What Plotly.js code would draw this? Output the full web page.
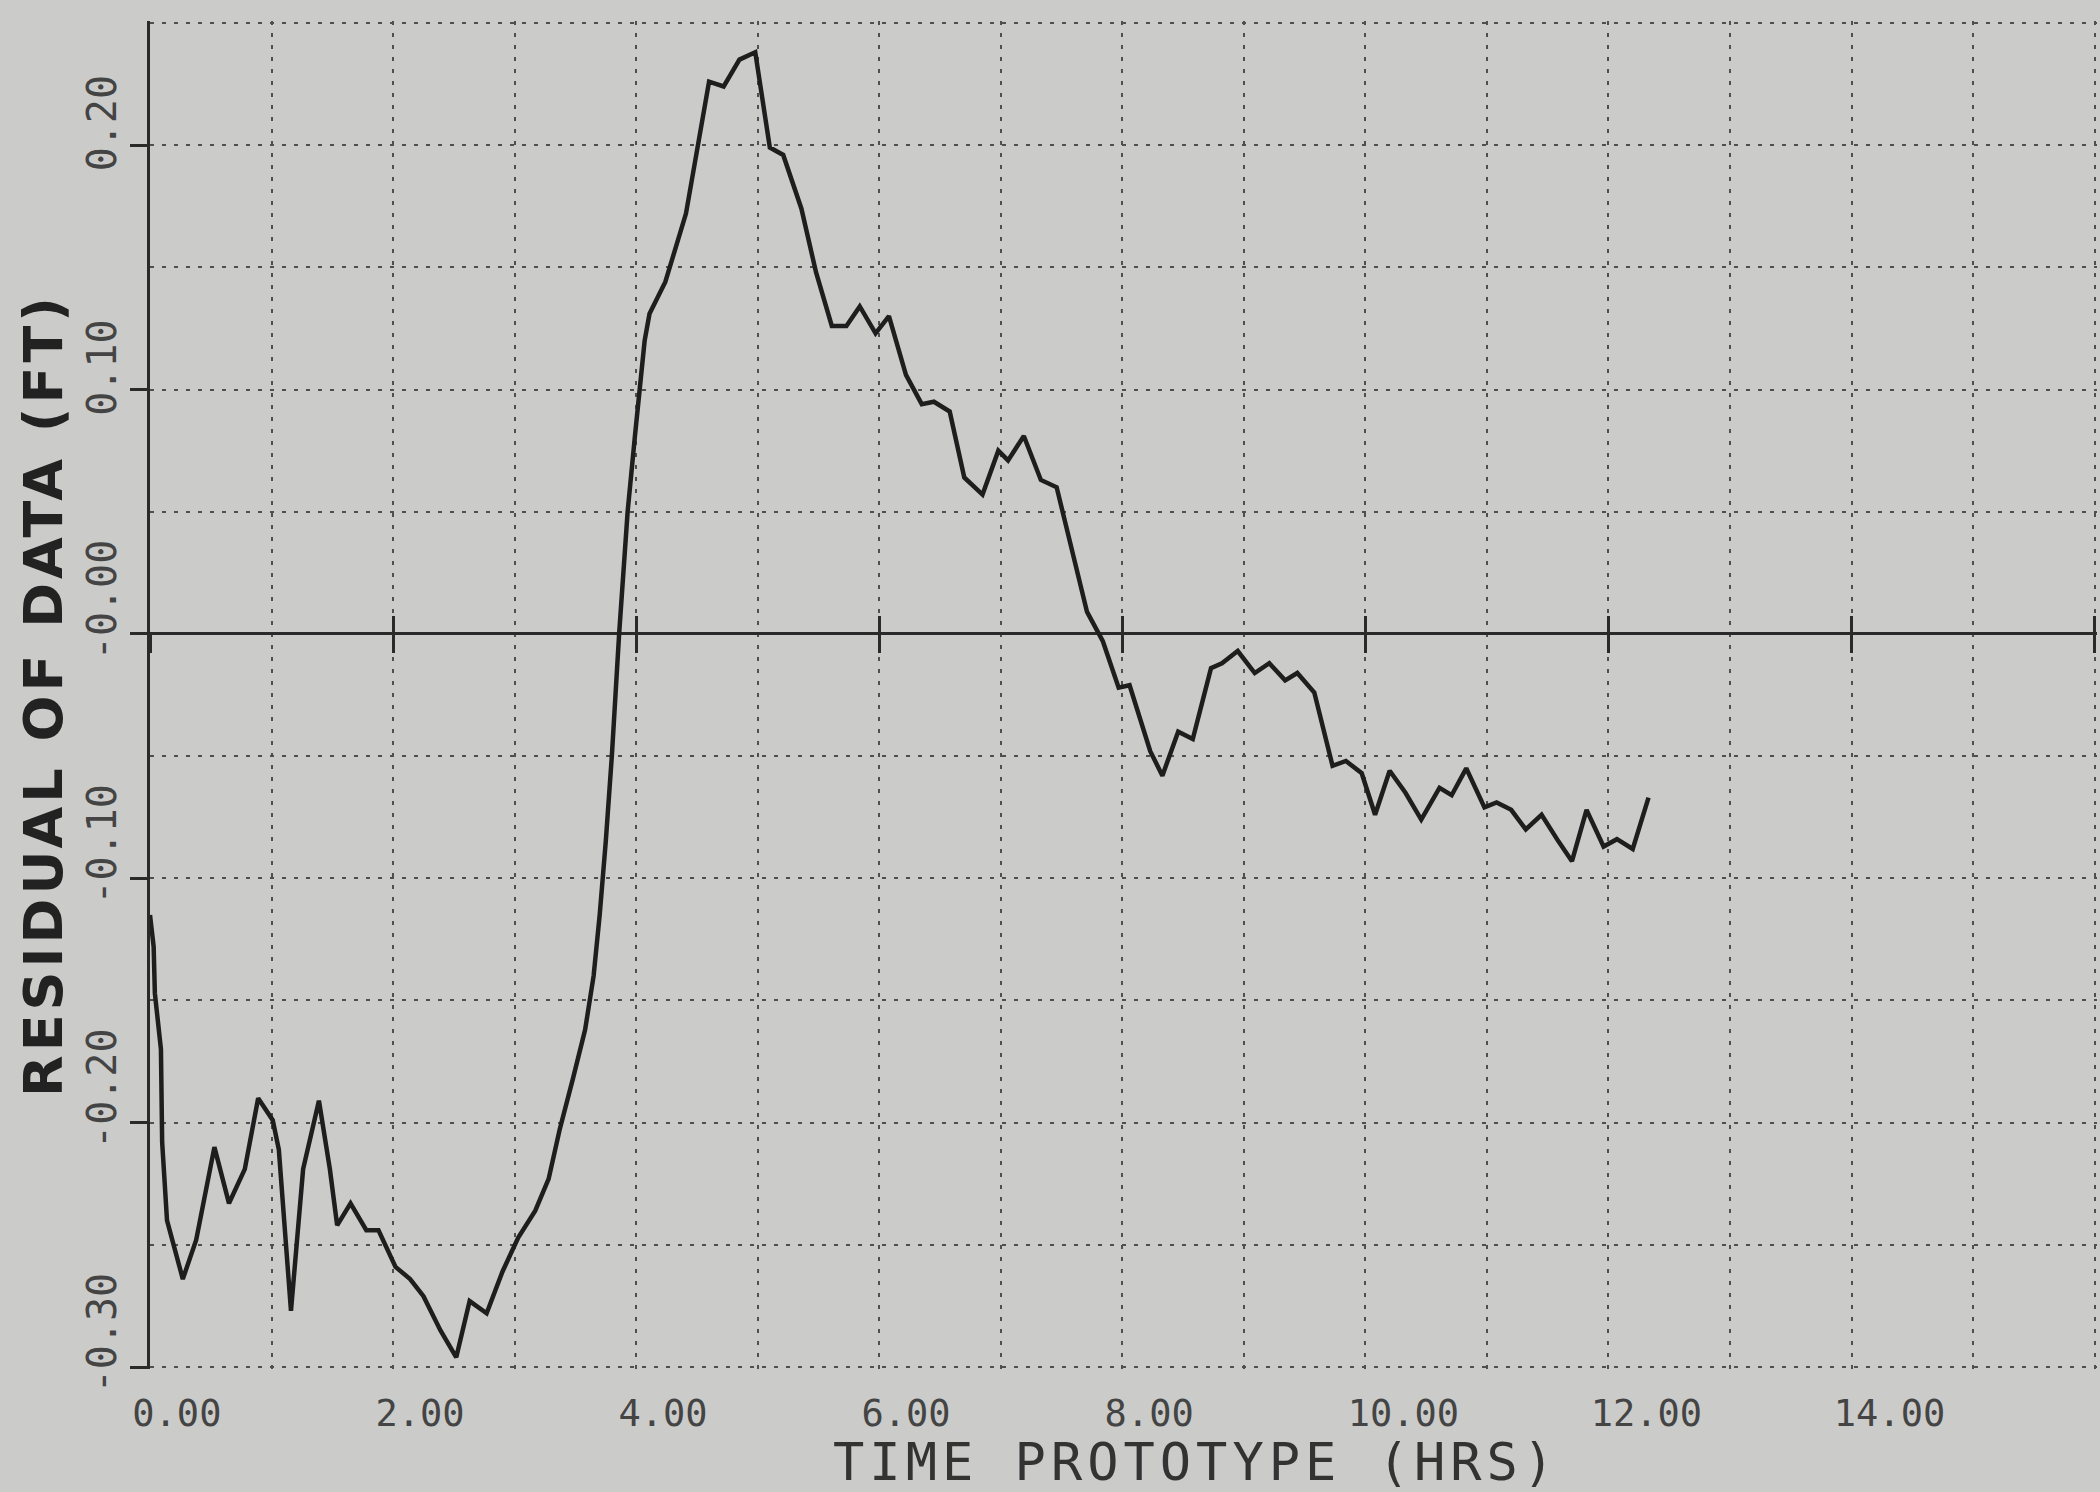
<!DOCTYPE html>
<html>
<head>
<meta charset="utf-8">
<script src="https://cdn.plot.ly/plotly-3.0.1.min.js"></script>
<style>html,body{margin:0;padding:0;background:#cbccca;}</style>
</head>
<body>
<div id="chart" style="width:2100px;height:1492px;"></div>
<script>
// Time (hours) and residual (ft)
var timeHrs = [0.00, 0.03, 0.04, 0.09, 0.10, 0.14, 0.27, 0.38, 0.53, 0.65, 0.78, 0.89, 1.01, 1.06, 1.16, 1.26, 1.39, 1.48, 1.54, 1.65, 1.78, 1.88, 2.02, 2.14, 2.25, 2.39, 2.52, 2.63, 2.77, 2.90, 3.03, 3.17, 3.28, 3.37, 3.48, 3.58, 3.65, 3.70, 3.75, 3.80, 3.86, 3.93, 3.99, 4.07, 4.11, 4.24, 4.41, 4.60, 4.72, 4.85, 4.98, 5.10, 5.21, 5.36, 5.48, 5.61, 5.73, 5.84, 5.97, 6.08, 6.22, 6.35, 6.45, 6.58, 6.70, 6.85, 6.98, 7.06, 7.19, 7.33, 7.46, 7.59, 7.71, 7.84, 7.97, 8.06, 8.23, 8.33, 8.46, 8.58, 8.73, 8.82, 8.95, 9.09, 9.21, 9.34, 9.44, 9.58, 9.73, 9.84, 9.97, 10.08, 10.20, 10.33, 10.46, 10.61, 10.71, 10.83, 10.98, 11.08, 11.20, 11.32, 11.45, 11.59, 11.70, 11.82, 11.96, 12.07, 12.20, 12.33];
var residualFt = [-0.115, -0.128, -0.147, -0.170, -0.208, -0.240, -0.264, -0.248, -0.210, -0.233, -0.219, -0.190, -0.199, -0.211, -0.277, -0.219, -0.191, -0.219, -0.242, -0.233, -0.244, -0.244, -0.259, -0.264, -0.271, -0.285, -0.296, -0.273, -0.278, -0.261, -0.247, -0.236, -0.223, -0.203, -0.182, -0.162, -0.140, -0.115, -0.085, -0.050, 0.000, 0.050, 0.081, 0.120, 0.131, 0.144, 0.172, 0.226, 0.224, 0.235, 0.238, 0.199, 0.196, 0.174, 0.148, 0.126, 0.126, 0.134, 0.123, 0.130, 0.106, 0.094, 0.095, 0.091, 0.064, 0.057, 0.075, 0.071, 0.081, 0.063, 0.060, 0.033, 0.009, -0.003, -0.022, -0.021, -0.048, -0.058, -0.040, -0.043, -0.014, -0.012, -0.007, -0.016, -0.012, -0.019, -0.016, -0.024, -0.054, -0.052, -0.057, -0.074, -0.056, -0.065, -0.076, -0.063, -0.066, -0.055, -0.071, -0.069, -0.072, -0.080, -0.074, -0.085, -0.093, -0.072, -0.087, -0.084, -0.088, -0.067];

// Axis ticks and labels as printed on the plot
var xTickVals = [0, 2, 4, 6, 8, 10, 12, 14];
var xTickText = ["0.00\u00a0", "2.00\u00a0", "4.00\u00a0", "6.00\u00a0", "8.00\u00a0", "10.00", "12.00", "14.00"];
var yTickVals = [-0.30, -0.20, -0.10, 0.00, 0.10, 0.20];
var yTickText = ["-0.30", "-0.20", "-0.10", "-0.00", "0.10\u00a0", "0.20\u00a0"];
var xRange = [0, 16.02];
var yRange = [-0.3008, 0.2508];

var xTitle = "<span style=\"letter-spacing:5px\">\u00a0\u00a0\u00a0\u00a0TIME PROTOTYPE (HRS)</span>";
var yTitle = "<span style=\"letter-spacing:4px\">RESIDUAL OF DATA (FT)</span>";

var bg = "#cbccca";
var ink = "#1e1e1e";
var gridCol = "#4e4f4e";
var gridDash = "4px,8px";

var zeroFrac = (0 - yRange[0]) / (yRange[1] - yRange[0]);

var traces = [
  {
    x: timeHrs, y: residualFt, type: "scatter", mode: "lines",
    line: {color: ink, width: 4.5},
    showlegend: false, hoverinfo: "skip"
  },
  {x: [], y: [], xaxis: "x2", yaxis: "y", type: "scatter", mode: "lines", showlegend: false, hoverinfo: "skip"},
  {x: [], y: [], xaxis: "x3", yaxis: "y", type: "scatter", mode: "lines", showlegend: false, hoverinfo: "skip"}
];

var crossTicks = function (dir) {
  return {
    overlaying: "x", anchor: "free", position: zeroFrac, side: "bottom",
    range: xRange, tickmode: "linear", tick0: 0, dtick: 2,
    ticks: dir, ticklen: 18, tickwidth: 3, tickcolor: "#2a2a2a",
    showticklabels: false, showgrid: false, zeroline: false, showline: false, fixedrange: true
  };
};

var layout = {
  width: 2100, height: 1492,
  margin: {l: 150, r: 3, t: 21, b: 123},
  paper_bgcolor: bg, plot_bgcolor: bg,
  showlegend: false,
  xaxis: {
    range: xRange, tickmode: "array", tickvals: xTickVals, ticktext: xTickText,
    ticks: "", ticklabelshift: 38, ticklabelstandoff: 19,
    tickfont: {family: "DejaVu Sans Mono", size: 37, color: "#444"},
    showgrid: true, gridcolor: gridCol, griddash: gridDash, gridwidth: 2,
    minor: {tickmode: "linear", tick0: 0, dtick: 1, showgrid: true, gridcolor: gridCol, griddash: gridDash, gridwidth: 2},
    zeroline: false, showline: false,
    title: {text: xTitle, font: {family: "DejaVu Sans Mono", size: 52, color: "#333"}, standoff: 14}
  },
  yaxis: {
    range: yRange, tickmode: "array", tickvals: yTickVals, ticktext: yTickText,
    ticks: "outside", ticklen: 17, tickwidth: 3, tickcolor: "#2a2a2a",
    tickangle: -90, ticklabelshift: -28, ticklabelstandoff: -2,
    tickfont: {family: "DejaVu Sans Mono", size: 40, color: "#444"},
    showgrid: true, gridcolor: gridCol, griddash: gridDash, gridwidth: 2,
    minor: {tickmode: "linear", tick0: 0, dtick: 0.05, showgrid: true, gridcolor: gridCol, griddash: gridDash, gridwidth: 2},
    zeroline: true, zerolinecolor: "#2a2a2a", zerolinewidth: 3,
    showline: true, linecolor: "#2a2a2a", linewidth: 3,
    title: {text: yTitle, font: {family: "DejaVu Sans", size: 54, color: "#222", weight: "bold"}, standoff: 0}
  },
  xaxis2: crossTicks("inside"),
  xaxis3: crossTicks("outside")
};

Plotly.newPlot("chart", traces, layout, {staticPlot: true, displayModeBar: false});
</script>
</body>
</html>
